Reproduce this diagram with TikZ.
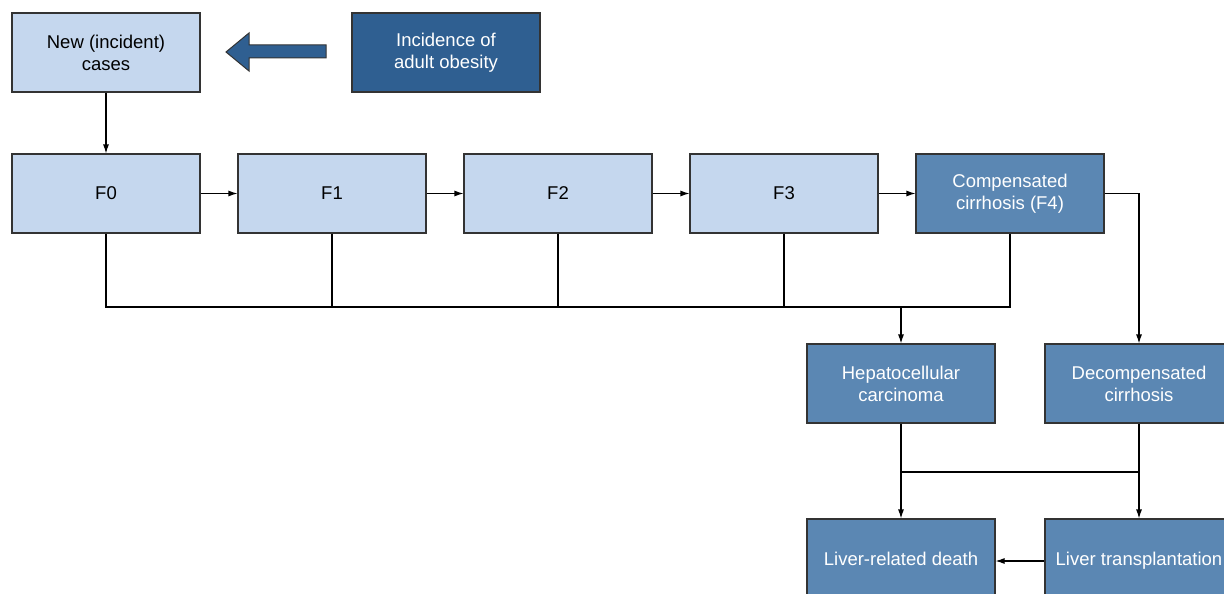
\documentclass[tikz,border=0pt]{standalone}
\usepackage{fontspec}
\setmainfont{Liberation Sans}
\usetikzlibrary{arrows.meta}
\definecolor{lightb}{HTML}{C5D7EE}
\definecolor{midb}{HTML}{5B87B3}
\definecolor{darkb}{HTML}{2F5F91}
\definecolor{edgec}{HTML}{333333}
\begin{document}
\begin{tikzpicture}[x=1pt,y=-1pt,
  box/.style={draw=edgec, line width=1.1pt, minimum width=188pt, minimum height=79pt, align=center, inner sep=0pt, font=\fontsize{18.5}{22}\selectfont},
  lightbox/.style={box, fill=lightb, text=black},
  midbox/.style={box, fill=midb, text=white},
  darkbox/.style={box, fill=darkb, text=white},
  lowbox/.style={midbox, minimum height=84pt, text height=13.5pt, text depth=4pt},
  conn/.style={draw=black, line width=1.1pt},
  arr/.style={conn, -{Latex[length=9pt,width=6pt]}}]
\useasboundingbox (0,0) rectangle (1224,594);
\clip (0,0) rectangle (1224,594);
\node[lightbox] (new) at (106,52.5) {New (incident)\\cases};
\node[darkbox] (inc) at (446,52.5) {Incidence of\\adult obesity};
\node[lightbox] (f0) at (106,193.5) {F0};
\node[lightbox] (f1) at (332,193.5) {F1};
\node[lightbox] (f2) at (558,193.5) {F2};
\node[lightbox] (f3) at (784,193.5) {F3};
\node[midbox] (comp) at (1010,193.5) {Compensated\\cirrhosis (F4)};
\node[midbox] (hcc) at (901,383.5) {Hepatocellular\\carcinoma};
\node[midbox] (decomp) at (1139,383.5) {Decompensated\\cirrhosis};
\node[lowbox] (death) at (901,561) {Liver-related death};
\node[lowbox] (tx) at (1139,561) {Liver transplantation};
% block arrow
\filldraw[fill=darkb, draw=edgec, line width=1pt, line join=miter]
  (326,45) -- (249,45) -- (249,33) -- (226,52) -- (249,71) -- (249,58) -- (326,58) -- cycle;
\coordinate (hl) at (0,307);
\coordinate (jl) at (0,472);
\draw[arr] (new) -- (f0);
\draw[arr] (f0) -- (f1);
\draw[arr] (f1) -- (f2);
\draw[arr] (f2) -- (f3);
\draw[arr] (f3) -- (comp);
\draw[conn] (f0.south) |- (comp.south |- hl) -- (comp.south);
\draw[conn] (f1.south) -- (f1.south |- hl);
\draw[conn] (f2.south) -- (f2.south |- hl);
\draw[conn] (f3.south) -- (f3.south |- hl);
\draw[arr] (hcc.north |- hl) -- (hcc.north);
\draw[arr] (comp.east) -| (decomp.north);
\draw[conn] (hcc.south) -- (hcc.south |- jl) -- (decomp.south |- jl);
\draw[conn] (decomp.south) -- (decomp.south |- jl);
\draw[arr] (hcc.south |- jl) -- (death.north);
\draw[arr] (decomp.south |- jl) -- (tx.north);
\draw[arr] (tx.west) -- (death.east);
\end{tikzpicture}
\end{document}
